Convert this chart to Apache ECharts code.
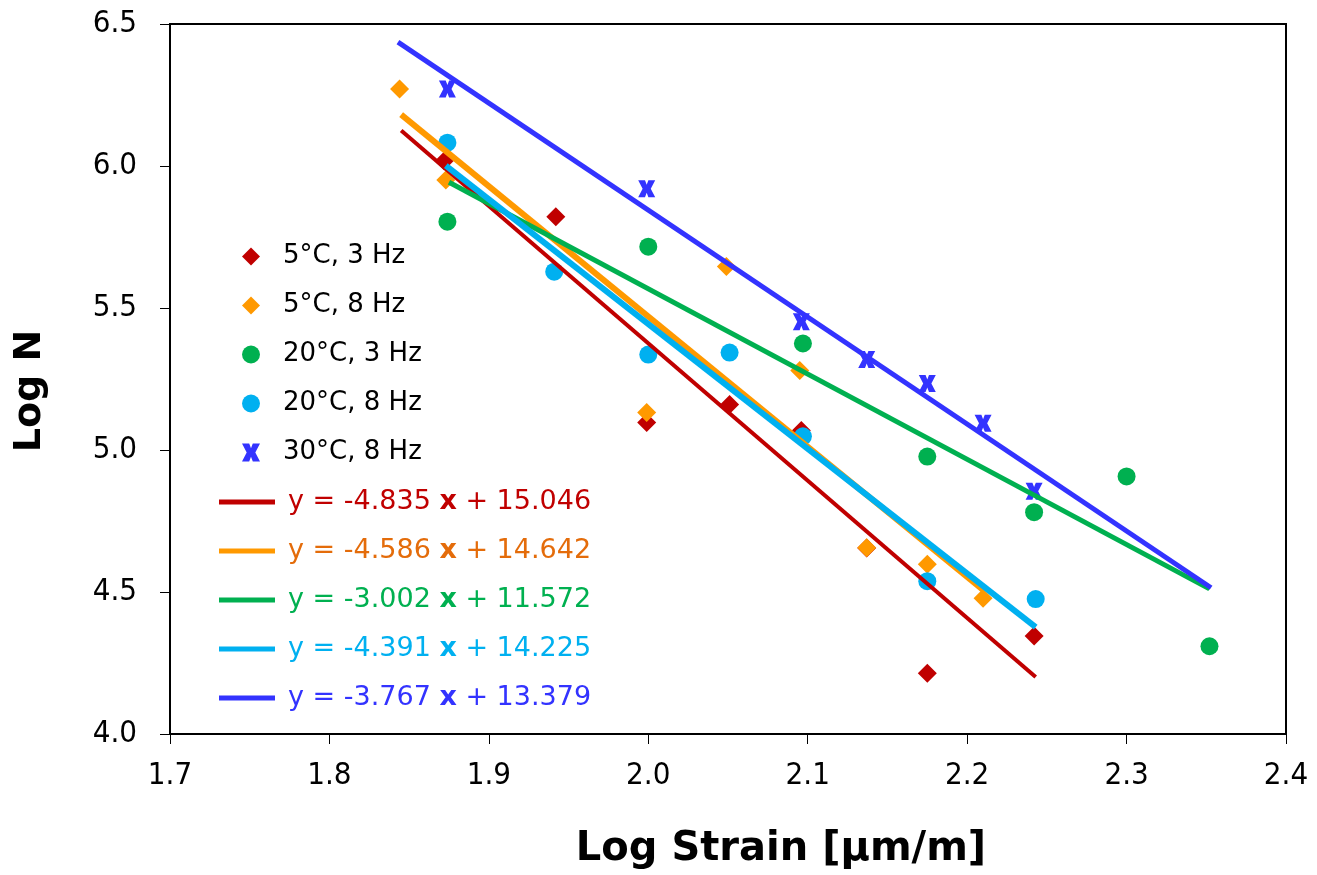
<!DOCTYPE html>
<html>
<head>
<meta charset="utf-8">
<script src="https://cdn.jsdelivr.net/npm/echarts@6/dist/echarts.min.js"></script>
<style>
  html, body { margin: 0; padding: 0; background: #fff; }
  #chart { width: 1317px; height: 875px; }
</style>
</head>
<body>
<div id="chart"></div>
<script>
// measured points [log strain, log N]
var s5c3 = [[1.872, 6.018], [1.942, 5.821], [1.999, 5.097], [2.051, 5.160], [2.096, 5.069],
            [2.137, 4.655], [2.175, 4.214], [2.242, 4.345]];
var s5c8 = [[1.844, 6.271], [1.873, 5.951], [1.999, 5.132], [2.049, 5.646], [2.095, 5.280],
            [2.137, 4.656], [2.175, 4.598], [2.210, 4.478]];
var s20c3 = [[1.874, 5.804], [2.000, 5.716], [2.097, 5.375], [2.175, 4.977], [2.242, 4.781],
             [2.300, 4.907], [2.352, 4.309]];
var s20c8 = [[1.874, 6.082], [1.941, 5.628], [2.000, 5.336], [2.051, 5.343], [2.097, 5.048],
             [2.175, 4.538], [2.243, 4.475]];
var s30c8 = [[1.874, 6.271], [1.999, 5.920], [2.096, 5.452], [2.137, 5.319], [2.175, 5.234],
             [2.210, 5.094], [2.242, 4.855]];

// trend line end points
var fit5c3 = [[1.845, 6.125], [2.243, 4.201]];
var fit5c8 = [[1.845, 6.181], [2.210, 4.507]];
var fit20c3 = [[1.875, 5.943], [2.352, 4.511]];
var fit20c8 = [[1.873, 6.001], [2.243, 4.376]];
var fit30c8 = [[1.843, 6.436], [2.353, 4.515]];

var pointNames = ['5°C, 3 Hz', '5°C, 8 Hz', '20°C, 3 Hz', '20°C, 8 Hz', '30°C, 8 Hz'];
var fitNames = ['y = -4.835 x + 15.046', 'y = -4.586 x + 14.642', 'y = -3.002 x + 11.572',
                'y = -4.391 x + 14.225', 'y = -3.767 x + 13.379'];

var xTicks = [1.7, 1.8, 1.9, 2.0, 2.1, 2.2, 2.3, 2.4];
var yTicks = [4.0, 4.5, 5.0, 5.5, 6.0, 6.5];

var lineColors = ['#C00000', '#FF9900', '#00B050', '#00B0F0', '#3333FF'];
var textColors = ['#C00000', '#E46C0A', '#00B050', '#00B0F0', '#3333FF'];
var lineWidths = [4, 6, 5, 6, 5];
var xMark = 'path://M0,0 L4,0 L5,2.6 L6,0 L10,0 L7.4,5 L10,10 L6,10 L5,7.4 L4,10 L0,10 L2.6,5 Z';

var font = 'DejaVu Sans, Tahoma, sans-serif';
var tickFont = 'DejaVu Sans Condensed, DejaVu Sans, sans-serif';
var myChart = echarts.init(document.getElementById('chart'));

var pointSets = [s5c3, s5c8, s20c3, s20c8, s30c8];
var pointSymbols = ['diamond', 'diamond', 'circle', 'circle', xMark];
var pointSizes = [19, 19, 18, 18, 17];
var fitSets = [fit5c3, fit5c8, fit20c3, fit20c8, fit30c8];

var series = [];
pointSets.forEach(function (d, i) {
    series.push({
        name: pointNames[i],
        type: 'scatter',
        data: d,
        symbol: pointSymbols[i],
        symbolSize: pointSizes[i],
        itemStyle: {color: lineColors[i], opacity: 1},
        z: 2
    });
});
fitSets.forEach(function (d, i) {
    series.push({
        name: fitNames[i],
        type: 'line',
        data: d,
        symbol: 'none',
        lineStyle: {color: lineColors[i], width: lineWidths[i]},
        itemStyle: {color: lineColors[i]},
        z: 3
    });
});

var option = {
    backgroundColor: '#fff',
    animation: false,
    grid: {
        left: 170, right: 31, top: 24, bottom: 140,
        show: true, borderColor: '#000', borderWidth: 2
    },
    legend: [
        {
            orient: 'vertical',
            left: 237,
            top: 236,
            selectedMode: false,
            itemWidth: 18,
            itemHeight: 18,
            itemGap: 18,
            data: pointNames.map(function (n) { return {name: n}; }),
            formatter: function (name) { return '{s| }' + name; },
            textStyle: {
                fontFamily: font, fontSize: 26, color: '#000', lineHeight: 31,
                rich: {s: {width: 18}}
            }
        },
        {
            orient: 'vertical',
            left: 214,
            top: 482,
            selectedMode: false,
            icon: 'rect',
            itemWidth: 56,
            itemHeight: 5,
            itemGap: 19,
            data: fitNames.map(function (n, i) {
                return {name: n, textStyle: {color: textColors[i]}};
            }),
            formatter: function (name) {
                return '{s| }' + name.replace(' x ', ' {b|x} ');
            },
            textStyle: {
                fontFamily: font, fontSize: 27, lineHeight: 30,
                rich: {
                    s: {width: 8},
                    b: {fontWeight: 'bold', fontFamily: font, fontSize: 27}
                }
            }
        }
    ],
    xAxis: {
        type: 'value',
        min: xTicks[0],
        max: xTicks[xTicks.length - 1],
        interval: 0.1,
        name: 'Log Strain [μm/m]',
        nameLocation: 'middle',
        nameGap: 96,
        nameTextStyle: {
            fontFamily: font, fontSize: 40, fontWeight: 'bold', color: '#000',
            padding: [0, 0, 0, 106]
        },
        axisLine: {lineStyle: {color: '#000', width: 2}},
        axisTick: {length: 10, lineStyle: {color: '#000', width: 1}},
        axisLabel: {
            fontFamily: tickFont, fontSize: 31, color: '#000', margin: 26,
            formatter: function (v) { return v.toFixed(1); }
        },
        splitLine: {show: false}
    },
    yAxis: {
        type: 'value',
        min: yTicks[0],
        max: yTicks[yTicks.length - 1],
        interval: 0.5,
        name: 'Log N',
        nameLocation: 'middle',
        nameGap: 121,
        nameTextStyle: {
            fontFamily: font, fontSize: 38, fontWeight: 'bold', color: '#000',
            padding: [0, 24, 0, 0]
        },
        axisLine: {lineStyle: {color: '#000', width: 2}},
        axisTick: {length: 10, lineStyle: {color: '#000', width: 1}},
        axisLabel: {
            fontFamily: tickFont, fontSize: 31, color: '#000', margin: 33,
            formatter: function (v) { return v.toFixed(1); }
        },
        splitLine: {show: false}
    },
    series: series
};
myChart.setOption(option);
</script>
</body>
</html>
